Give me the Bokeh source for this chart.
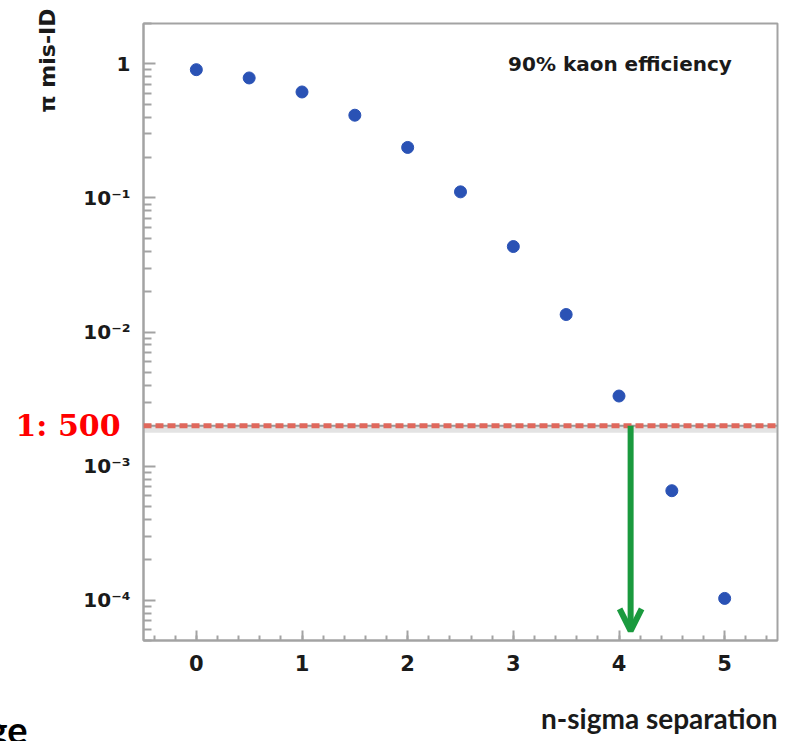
import math
from bokeh.plotting import figure
from bokeh.models import (Range1d, FixedTicker, SingleIntervalTicker, CustomJSTickFormatter,
                          Label, Arrow, OpenHead, LogAxis, Title)
from bokeh.embed import file_html
from bokeh.resources import INLINE

# ---- data ----
n_sigma = [0, 0.5, 1, 1.5, 2, 2.5, 3, 3.5, 4, 4.5, 5]
pi_misid = [0.905, 0.785, 0.617, 0.414, 0.238, 0.111, 0.0434, 0.0135, 0.00333, 0.000655, 0.000103]
threshold = 0.002          # 1:500
arrow_x = 4.11
decades = [1e-4, 1e-3, 1e-2, 1e-1, 1]
x_label = "n-sigma separation"
y_label = "π mis-ID"
note = "90% kaon efficiency"
ratio_label = "1: 500"
cut_word = "ge"

GREY = "#a3a3a3"
TXT = "#1a1a1a"

p = figure(width=794, height=741, y_axis_type="log",
           x_range=Range1d(-0.5, 5.5), y_range=Range1d(5e-5, 2),
           output_backend="svg", toolbar_location=None,
           min_border_left=143, min_border_right=17,
           min_border_top=23, min_border_bottom=101)
p.background_fill_color = "white"
p.border_fill_color = "white"
p.outline_line_color = GREY
p.outline_line_width = 2
p.grid.visible = False

# x axis
xa = p.xaxis[0]
xa.ticker = SingleIntervalTicker(interval=1, num_minor_ticks=5)
xa.axis_line_color = GREY
xa.axis_line_width = 2
xa.major_tick_line_color = GREY
xa.minor_tick_line_color = GREY
xa.major_tick_line_width = 2
xa.minor_tick_line_width = 2
xa.major_tick_in = 10
xa.major_tick_out = 0
xa.minor_tick_in = 5
xa.minor_tick_out = 0
xa.major_label_text_font = "DejaVu Sans"
xa.major_label_text_font_style = "bold"
xa.major_label_text_font_size = "21px"
xa.major_label_text_color = TXT
xa.major_label_standoff = 14
# blank axis label only to reserve room above the x title
xa.axis_label = " "
xa.axis_label_text_font_size = "10px"
xa.axis_label_standoff = 4

# y axis
minors = [m * d for d in [1e-5] + decades for m in range(2, 10)]
ya = p.yaxis[0]
ya.ticker = FixedTicker(ticks=decades, minor_ticks=minors)
ya.formatter = CustomJSTickFormatter(code="""
const e = Math.round(Math.log10(tick));
if (e === 0) return "1";
const sup = {"-":"\u207b","0":"\u2070","1":"\u00b9","2":"\u00b2","3":"\u00b3","4":"\u2074","5":"\u2075","6":"\u2076","7":"\u2077","8":"\u2078","9":"\u2079"};
return "10" + String(e).split("").map(c => sup[c]).join("");
""")
ya.axis_line_color = GREY
ya.axis_line_width = 2
ya.major_tick_line_color = GREY
ya.minor_tick_line_color = GREY
ya.major_tick_line_width = 2
ya.minor_tick_line_width = 2
ya.major_tick_in = 12
ya.major_tick_out = 0
ya.minor_tick_in = 8
ya.minor_tick_out = 0
ya.major_label_text_font = "DejaVu Sans"
ya.major_label_text_font_style = "bold"
ya.major_label_text_font_size = "20px"
ya.major_label_text_color = TXT
ya.major_label_standoff = 13

# "1: 500" as the single label of an extra left axis at the threshold value
ra = LogAxis(ticker=FixedTicker(ticks=[threshold], minor_ticks=[]),
             formatter=CustomJSTickFormatter(args=dict(t=ratio_label), code="return t;"))
ra.axis_line_color = None
ra.major_tick_line_color = None
ra.minor_tick_line_color = None
ra.major_tick_in = 0
ra.major_tick_out = 0
ra.major_label_standoff = -40
ra.major_label_text_font = "DejaVu Serif"
ra.major_label_text_font_style = "bold"
ra.major_label_text_font_size = "30px"
ra.major_label_text_color = "#ff0000"
p.add_layout(ra, "left")

# y label as a left title at the top
p.add_layout(Title(text=y_label, align="right", text_font="DejaVu Sans", text_font_style="bold",
                   text_font_size="22px", text_color=TXT, standoff=-94, offset=-15), "left")

# x label and cut-off word as titles below
p.add_layout(Title(text=x_label, align="right", text_font="Lato", text_font_style="bold",
                   text_font_size="28px", text_color=TXT, standoff=14), "below")
p.add_layout(Title(text=cut_word, align="left", vertical_align="top", text_font="Lato",
                   text_font_style="bold", text_font_size="38px", text_color="#000000",
                   standoff=-71, offset=-156), "below")

# threshold line (shadow, base, dashes)
shadow_y = threshold * 10 ** (-3.5 / 134.5)
p.add_layout(Arrow(end=None, x_start=-0.5, x_end=5.56, y_start=shadow_y, y_end=shadow_y,
                   line_color="#b0b0b0", line_alpha=0.35, line_width=7))
p.add_layout(Arrow(end=None, x_start=-0.5, x_end=5.56, y_start=threshold, y_end=threshold,
                   line_color="#9a9a9a", line_width=2))
p.add_layout(Arrow(end=None, x_start=-0.5, x_end=5.56, y_start=threshold, y_end=threshold,
                   line_color="#e0685c", line_width=5, line_dash="8 4"))

# green arrow
p.add_layout(Arrow(end=OpenHead(line_color="#1a9a3e", line_width=6, size=22),
                   x_start=arrow_x, y_start=threshold, x_end=arrow_x, y_end=5.9e-5,
                   line_color="#1a9a3e", line_width=6))

# data points
p.scatter(n_sigma, pi_misid, size=12, color="#2a52b5")

# note inside the frame
p.add_layout(Label(x=2.95, y=1.0, text=note, text_font="DejaVu Sans", text_font_style="bold",
                   text_font_size="20px", text_color=TXT, text_baseline="middle"))

open("out.html", "w").write(file_html(p, INLINE))
